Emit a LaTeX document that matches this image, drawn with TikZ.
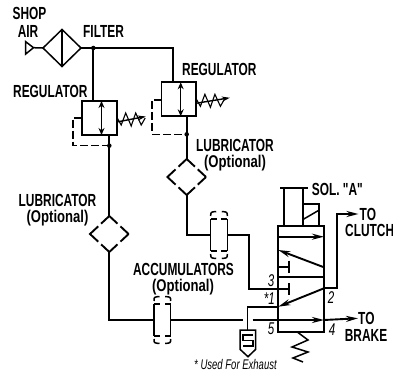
\documentclass[tikz,border=0pt]{standalone}
\usepackage{fontspec}
\setmainfont[FakeStretch=.68,Ligatures=TeXOff]{Liberation Sans}
\newfontfamily\optfont[FakeStretch=.77]{Liberation Sans}
\usetikzlibrary{arrows.meta,shapes.geometric}
\tikzset{
    pipe/.style={line width=1.9pt},
    flow/.style={line width=1.9pt,-{Stealth[length=12pt,width=6pt]}},
    thinpipe/.style={line width=1.5pt},
    feedback/.style={line width=1.5pt,dash pattern=on 8pt off 3pt},
    junction/.style={circle,fill=black,inner sep=0pt,minimum size=4.5pt},
    regbox/.style={draw,line width=1.9pt,inner sep=0pt,outer sep=0pt,minimum width=34.4pt,minimum height=34pt},
    lube/.style={diamond,draw,line width=1.9pt,inner sep=0pt,outer sep=0pt,minimum width=38.6pt,minimum height=36pt,
        dash pattern=on 22.4pt off 4pt,dash phase=11.2pt},
    accum/.style={inner sep=0pt,outer sep=0pt,minimum width=16.6pt,minimum height=47pt},
    lbl/.style={inner sep=0pt,font=\bfseries\fontsize{17.5}{20}\selectfont},
    optlbl/.style={inner sep=0pt,font=\optfont\bfseries\fontsize{17}{20}\selectfont},
    portlbl/.style={inner sep=0pt,font=\itshape\fontsize{17}{18}\selectfont},
}
\begin{document}
\begin{tikzpicture}[x=1pt,y=-1pt]
    \useasboundingbox (0,0) rectangle (393,374);

    % supply and filter
    \node[lbl] (shop) at (29.5,13.5) {SHOP};
    \node[lbl] (air) at (28,31) {AIR};
    \node[lbl,anchor=west] (filtertext) at (83,31) {FILTER};
    \draw[thinpipe] (25.7,41.7) -- (33.5,47.7) -- (25.7,54) -- cycle;
    \coordinate (inlet) at (33.5,47.7);
    \node[diamond,draw,line width=1.5pt,inner sep=0pt,outer sep=0pt,minimum width=38pt,minimum height=37pt] (filter) at (62,48) {};
    \draw[thinpipe] (filter.north) -- (filter.south);
    \draw[thinpipe] (inlet) -- (filter.west);
    \node[junction] (teeA) at (93.3,48) {};

    % regulators
    \node[regbox] (regA) at (99.5,118) {};
    \node[regbox] (regB) at (178.7,99.3) {};
    \node[lbl,anchor=west] (regAtext) at (13,91.7) {REGULATOR};
    \node[lbl,anchor=west] (regBtext) at (182,69.3) {REGULATOR};
    \draw[pipe] (filter.east) -- (173.3,48) -- (173.3,82.3);
    \draw[pipe] (teeA) -- (teeA |- regA.north);
    \foreach \reg/\len in {regA/29,regB/34} {
        \draw[line width=1.5pt,{Stealth[length=7pt,width=6pt]}-{Stealth[length=7pt,width=6pt]}] ([xshift=2pt]\reg.north) -- ([xshift=2pt]\reg.south);
        \begin{scope}[shift={(\reg.east)}]
            \draw[line width=1.1pt] (0,-1) -- (4.5,7) -- (9,-5) -- (14.5,8) -- (19,-5) -- (24.5,7) -- (28.5,0);
            \draw[line width=1.4pt,-{Stealth[length=8pt,width=5pt]}] (0,4) -- (\len,-1.5);
        \end{scope}
    }

    % regulator feedback
    \node[junction] (teeB) at (109.3,145.7) {};
    \node[junction] (teeC) at (186.7,134.3) {};
    \draw[feedback] (82.3,118) -- (73,118) -- (73,145.7) -- (teeB);
    \draw[feedback] (161.5,100) -- (152,100) -- (152,134.3) -- (teeC);

    % lubricators
    \node[lube] (lubeA) at (109.3,234) {};
    \node[lube] (lubeB) at (186.7,177) {};
    \node[lbl] (lubeAtext) at (57.5,200) {LUBRICATOR};
    \node[optlbl] (lubeAopt) at (57.5,218.5) {(Optional)};
    \node[lbl] (lubeBtext) at (235,145) {LUBRICATOR};
    \node[optlbl] (lubeBopt) at (235,163) {(Optional)};
    \draw[pipe] (109.3,135) -- (lubeA.north);
    \draw[pipe] (186.7,116.3) -- (lubeB.north);

    % accumulators
    \node[accum] (accumA) at (162.3,320) {};
    \node[accum] (accumB) at (219,235) {};
    \node[lbl] (accumtext) at (183.5,269) {ACCUMULATORS};
    \node[optlbl] (accumopt) at (183,287.5) {(Optional)};
    \foreach \acc in {accumA,accumB} {
        \draw[thinpipe] ([yshift=16pt]\acc.west) -- ([yshift=-16pt]\acc.west);
        \draw[thinpipe] ([yshift=16pt]\acc.east) -- ([yshift=-16pt]\acc.east);
        \foreach \s in {1,-1} {
            \draw[thinpipe] ([yshift=\s*16pt]\acc.west) -- ([yshift=\s*16pt,xshift=6pt]\acc.west);
            \draw[thinpipe] ([yshift=\s*16pt]\acc.east) -- ([yshift=\s*16pt,xshift=-6pt]\acc.east);
            \draw[thinpipe] ([yshift=\s*19pt]\acc.west) .. controls ([yshift=\s*23pt]\acc.west) .. ([yshift=\s*23.5pt,xshift=5.5pt]\acc.west);
            \draw[thinpipe] ([yshift=\s*19pt]\acc.east) .. controls ([yshift=\s*23pt]\acc.east) .. ([yshift=\s*23.5pt,xshift=-5.5pt]\acc.east);
        }
    }

    % valve
    \node[draw,line width=1.9pt,inner sep=0pt,outer sep=0pt,minimum width=45.7pt,minimum height=106.3pt] (valve) at (301.2,278.9) {};
    \coordinate (port1) at (278.3,306.7);
    \coordinate (port2) at (324,288.3);
    \coordinate (port3) at (278.3,289);
    \coordinate (port4) at (324,320);
    \coordinate (port5) at (252.7,320);
    \draw[pipe] (valve.west |- 0,276.7) -- (valve.east |- 0,276.7);
    \draw[flow] (278.3,236.7) -- (324,236.7);
    \draw[flow] (324,267.3) -- (278.3,250);
    \draw[pipe] (278.3,267.3) -- (289.3,267.3);
    \draw[pipe] (289.3,260.7) -- (289.3,273);
    \draw[flow] (port2) -- (port1);

    % cylinder and solenoid
    \draw[pipe] (280,188.3) -- (308,188.3);
    \draw[pipe] (284.3,188.3) -- (284.3,225.7);
    \draw[pipe] (303.3,188.3) -- (303.3,225.7);
    \draw[pipe] (303.3,204) -- (319.3,204) -- (319.3,225.7);
    \draw[thinpipe] (303.3,219.3) -- (319.3,210);
    \node[lbl,anchor=west] (soltext) at (311.7,189.3) {SOL. "A"};

    % piping to valve
    \draw[pipe] (lubeA.south) -- (109.3,320) -- (accumA.west);
    \draw[pipe] (accumA.east) -- (243,320);
    \draw[pipe] (lubeB.south) -- (186.7,235) -- (accumB.west);
    \draw[pipe] (accumB.east) -- (249.3,235) -- (249.3,289) -- (port3);
    \draw[pipe] (port3) -- (289.3,289);
    \draw[pipe] (289.3,283.3) -- (289.3,295);
    \draw[flow] (port5) -- (port4);
    \node[lbl,anchor=west] (brakeA) at (358,318.3) {TO};
    \node[lbl,anchor=west] (brakeB) at (344.7,335.7) {BRAKE};
    \draw[flow] (port4) -- (brakeA.west);
    \draw[flow] (port2) -- (337.3,288.3) -- (337.3,214) -- (358.5,214);
    \node[lbl,anchor=west] (clutchA) at (359.5,214) {TO};
    \node[lbl,anchor=west] (clutchB) at (345,230) {CLUTCH};

    % exhaust
    \draw[pipe] (port1) -- (247.5,306.7) -- (247.5,330);
    \draw[thinpipe] (240,330) -- (255.7,330) -- (255.7,349.3) -- (248,356.7) -- (240,349.3) -- cycle;
    \draw[line width=1.2pt] (253,335) -- (243,335) -- (243,340.5) -- (253,340.5) -- (253,346) -- (243,346);

    % spring
    \draw[thinpipe] (297.3,332) -- (308,340) -- (292,347) -- (308,352) -- (293,358) -- (303,362);

    % port numbers
    \node[portlbl] (num3) at (271,281) {3};
    \node[portlbl,anchor=east] (num1) at (275,298.3) {*1};
    \node[portlbl] (num2) at (331,297.7) {2};
    \node[portlbl] (num5) at (271,328.7) {5};
    \node[portlbl] (num4) at (332,329.7) {4};
    \node[inner sep=0pt,anchor=west,font=\itshape\fontsize{14}{16}\selectfont] (note) at (194,364) {* Used For Exhaust};
\end{tikzpicture}
\end{document}
